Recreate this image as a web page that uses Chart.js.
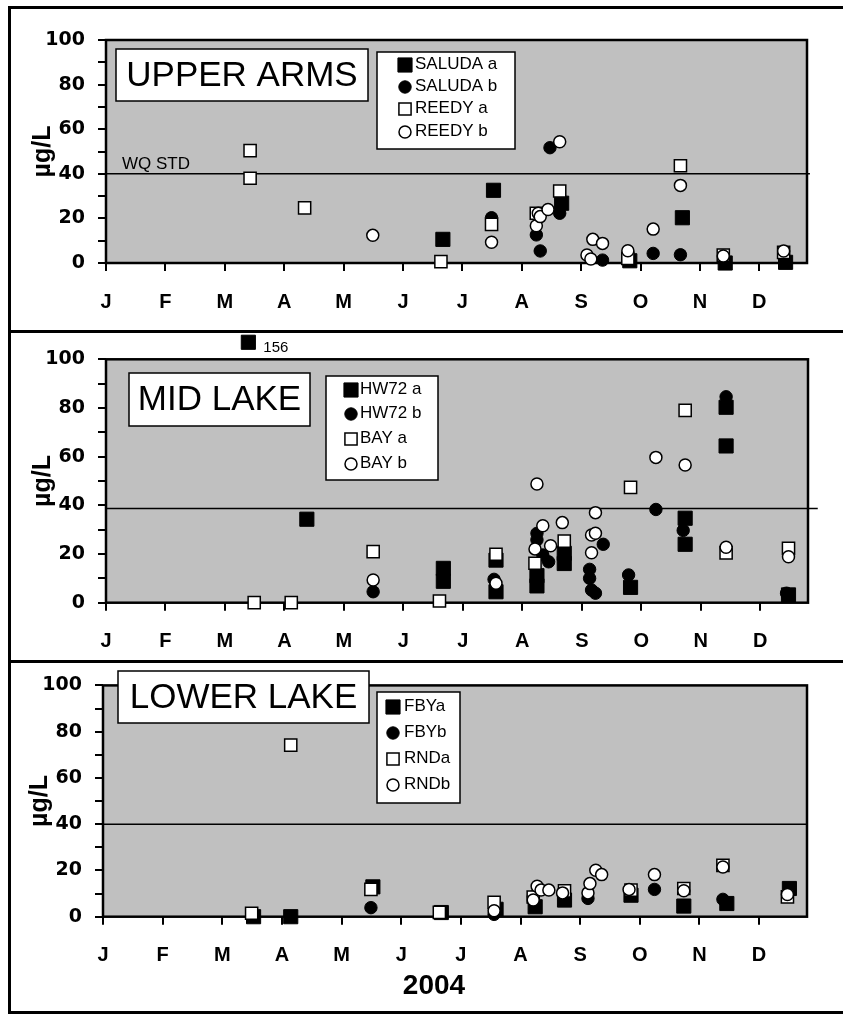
<!DOCTYPE html>
<html lang="en">
<head>
<meta charset="UTF-8">
<title>2004 - Upper Arms / Mid Lake / Lower Lake</title>
<script src="https://cdn.jsdelivr.net/npm/chart.js"></script>
<style>
    body {
        margin: 0;
        background: #fff;
        width: 843px;
        height: 1015px;
        overflow: hidden;
        position: relative;
    }
    .frame {
        position: absolute;
        left: 8px;
        top: 6px;
        width: 900px;
        height: 1008px;
        border: 3px solid #000;
        box-sizing: border-box;
    }
    .sep {
        position: absolute;
        left: 8px;
        width: 900px;
        height: 3px;
        background: #000;
    }
    canvas {
        position: absolute;
        left: 0;
    }
</style>
</head>
<body>
<div class="frame"></div>
<div class="sep" style="top:330px"></div>
<div class="sep" style="top:660px"></div>
<canvas id="c1" width="843" height="331" style="top:0"></canvas>
<canvas id="c2" width="843" height="330" style="top:331px"></canvas>
<canvas id="c3" width="843" height="354" style="top:661px"></canvas>

<script>
const MONTHS = ['J', 'F', 'M', 'A', 'M', 'J', 'J', 'A', 'S', 'O', 'N', 'D'];
const MONTH_TICKS = [0, 30.5, 61, 91.5, 122, 152.5, 183, 213.5, 244, 274.5, 305, 335.5];
const PANEL_TITLES = ['UPPER ARMS', 'MID LAKE', 'LOWER LAKE'];
const WQ_STD = [40, 38.7, 40];
const BREAK_Y = 107;   // values above 100 are drawn just over the plot top

// [day of year, µg/L]
// upper arms
const saludaA = [[173, 10.6], [199, 32.6], [234, 26.8], [269, 1.0], [296, 20.3], [318, 0], [349, 0.3]];
const saludaB = [[198, 20.3], [221, 12.6], [223, 5.4], [228, 51.7], [233, 22.3], [255, 1.3], [281, 4.3], [295, 3.7]];
const reedyA = [[74, 50.4], [74, 38.0], [102, 24.7], [172, 0.6], [198, 17.3], [221, 22.3], [233, 32.3],
                [268, 2.1], [295, 43.6], [317, 3.5], [348, 4.8]];
const reedyB = [[137, 12.4], [198, 9.3], [221, 16.7], [222, 22.3], [223, 20.8], [227, 24.0], [233, 54.4],
                [247, 3.6], [249, 1.8], [250, 10.6], [255, 8.8], [268, 5.5], [281, 15.2], [295, 34.8],
                [317, 3.1], [348, 5.4]];

// mid lake
const hw72A = [[73, 156], [103, 34.3], [173, 14.1], [173, 8.8], [200, 17.5], [200, 4.5], [221, 11.1], [221, 6.9],
               [235, 20.3], [235, 16.1], [269, 6.3], [297, 34.7], [297, 24], [318, 80.3], [318, 64.4], [350, 3.2]];
const hw72B = [[137, 4.5], [199, 9.6], [221, 25.8], [221, 28.5], [224, 19.6], [227, 16.8], [248, 13.7], [248, 10],
               [249, 5.2], [251, 3.9], [255, 24], [268, 11.4], [282, 38.3], [296, 29.7], [318, 84.6], [349, 3.9]];
const bayA = [[76, 0], [95, 0], [137, 21], [171, 0.7], [200, 19.9], [220, 16.2], [235, 25.3], [269, 47.4],
              [297, 79], [318, 20.5], [350, 22.3]];
const bayB = [[137, 9.3], [200, 8], [220, 22.1], [221, 48.8], [224, 31.6], [228, 23.4], [234, 32.9], [249, 20.5],
              [249, 27.8], [251, 28.5], [251, 37], [282, 59.7], [297, 56.6], [318, 22.8], [350, 18.9]];

// lower lake
const fbyA = [[77, 0], [96, 0], [138, 12.9], [173, 1.8], [201, 3.2], [221, 4.3], [236, 7.2], [270, 9.3],
              [297, 4.6], [319, 5.7], [351, 12.2]];
const fbyB = [[137, 3.9], [200, 1], [220, 8.6], [248, 7.9], [282, 11.8], [317, 7.5]];
const rndA = [[76, 1.5], [96, 74.2], [137, 11.8], [172, 1.9], [200, 6.2], [220, 8.5], [236, 11.2], [270, 11.5],
              [297, 12.2], [317, 22.2], [350, 8.6]];
const rndB = [[200, 2.6], [220, 7.2], [222, 13.2], [224, 11.5], [228, 11.5], [235, 10.3], [248, 10.3], [249, 14.3],
              [252, 20.1], [255, 18.2], [269, 11.8], [282, 18.2], [297, 11.2], [317, 21.5], [350, 9.6]];

const FONT = '"Liberation Sans", Arial, sans-serif';
const WIDE_FONT = '"DejaVu Sans", Verdana, sans-serif';

const MARKS = {
    fsq: { style: 'rect', r: 10, bg: '#000', bw: 1 },
    fci: { style: 'circle', r: 6.2, bg: '#000', bw: 1 },
    osq: { style: 'rect', r: 8.6, bg: '#fff', bw: 1.5 },
    oci: { style: 'circle', r: 6, bg: '#fff', bw: 1.5 }
};

const PANELS = [
    {
        id: 'c1', height: 331, area: { l: 106, r: 807, t: 40, b: 263 }, stdEnd: 361.5,
        series: [['SALUDA a', 'fsq', saludaA], ['SALUDA b', 'fci', saludaB], ['REEDY a', 'osq', reedyA], ['REEDY b', 'oci', reedyB]],
        titleBox: { x: 116, y: 49, w: 252, h: 52 },
        legend: { x: 377, y: 52, w: 138, h: 97, rows: [64, 86, 108, 131], markX: 405, textX: 415 },
        texts: [{ text: 'WQ STD', x: 122, y: 169, font: '17px ' + FONT, base: 'alphabetic' }]
    },
    {
        id: 'c2', height: 330, area: { l: 106, r: 808, t: 28.3, b: 271.7 }, stdEnd: 365,
        series: [['HW72 a', 'fsq', hw72A], ['HW72 b', 'fci', hw72B], ['BAY a', 'osq', bayA], ['BAY b', 'oci', bayB]],
        titleBox: { x: 129, y: 42, w: 181, h: 53 },
        legend: { x: 326, y: 45, w: 112, h: 104, rows: [58, 82, 107, 132], markX: 351, textX: 360 },
        texts: []
    },
    {
        id: 'c3', height: 354, area: { l: 103, r: 807, t: 23, b: 255.7 }, stdEnd: 360,
        series: [['FBYa', 'fsq', fbyA], ['FBYb', 'fci', fbyB], ['RNDa', 'osq', rndA], ['RNDb', 'oci', rndB]],
        titleBox: { x: 118, y: 10, w: 251, h: 52 },
        legend: { x: 377, y: 31, w: 83, h: 111, rows: [45, 71, 97, 123], markX: 393, textX: 404 },
        texts: [{ text: '2004', x: 434, y: 325, font: 'bold 28px ' + FONT, base: 'middle', align: 'center' }]
    }
];

const Y_AXIS_W = 86;
const X_AXIS_H = 50;

function drawMark(ctx, kind, x, y) {
    const m = MARKS[kind];
    ctx.save();
    ctx.fillStyle = m.bg;
    ctx.strokeStyle = '#000';
    ctx.lineWidth = m.bw;
    ctx.beginPath();
    if (m.style === 'rect') {
        const s = m.r * Math.SQRT1_2;
        ctx.rect(x - s, y - s, 2 * s, 2 * s);
    } else {
        ctx.arc(x, y, m.r, 0, Math.PI * 2);
    }
    ctx.fill();
    ctx.stroke();
    ctx.restore();
}

const panelDeco = {
    id: 'panelDeco',
    beforeDraw(chart) {
        const a = chart.chartArea, ctx = chart.ctx;
        ctx.save();
        ctx.fillStyle = '#c0c0c0';
        ctx.fillRect(a.left, a.top, a.right - a.left, a.bottom - a.top);
        ctx.restore();
    },
    beforeDatasetsDraw(chart) {
        const a = chart.chartArea, ctx = chart.ctx;
        ctx.save();
        ctx.strokeStyle = '#000';
        ctx.lineWidth = 2.5;
        ctx.strokeRect(a.left, a.top, a.right - a.left, a.bottom - a.top);
        ctx.restore();
    },
    afterDatasetsDraw(chart, args, opts) {
        const ctx = chart.ctx;
        const p = opts.panel;
        ctx.save();

        // values off the scale: Chart.js skips marks outside the plot, so draw
        // them at their scaled position and write the real number beside them
        chart.data.datasets.forEach((ds, i) => {
            if (!ds.kind) return;
            chart.getDatasetMeta(i).data.forEach((pt, j) => {
                const v = ds.data[j].v;
                if (v > 100) {
                    drawMark(ctx, ds.kind, pt.x, pt.y);
                    ctx.fillStyle = '#000';
                    ctx.font = '15px ' + FONT;
                    ctx.textAlign = 'left';
                    ctx.textBaseline = 'middle';
                    ctx.fillText(String(v), pt.x + 15, pt.y + 6);
                }
            });
        });

        // panel title box
        const tb = p.titleBox;
        ctx.fillStyle = '#fff';
        ctx.fillRect(tb.x, tb.y, tb.w, tb.h);
        ctx.strokeStyle = '#000';
        ctx.lineWidth = 1.5;
        ctx.strokeRect(tb.x, tb.y, tb.w, tb.h);
        ctx.fillStyle = '#000';
        ctx.font = '35px ' + FONT;
        ctx.textAlign = 'center';
        ctx.textBaseline = 'middle';
        ctx.fillText(opts.title, tb.x + tb.w / 2, tb.y + tb.h / 2 + 1);

        // legend
        const lg = p.legend;
        ctx.fillStyle = '#fff';
        ctx.fillRect(lg.x, lg.y, lg.w, lg.h);
        ctx.strokeRect(lg.x, lg.y, lg.w, lg.h);
        p.series.forEach((s, i) => {
            drawMark(ctx, s[1], lg.markX, lg.rows[i] + 1);
            ctx.fillStyle = '#000';
            ctx.font = '17px ' + FONT;
            ctx.textAlign = 'left';
            ctx.textBaseline = 'middle';
            ctx.fillText(s[0], lg.textX, lg.rows[i]);
        });

        // loose texts
        p.texts.forEach(t => {
            ctx.fillStyle = '#000';
            ctx.font = t.font;
            ctx.textAlign = t.align || 'left';
            ctx.textBaseline = t.base;
            ctx.fillText(t.text, t.x, t.y);
        });
        ctx.restore();
    }
};

function makePanel(p, idx) {
    const n = p.series.length;
    const datasets = p.series.map((s, i) => {
        const m = MARKS[s[1]];
        return {
            label: s[0],
            kind: s[1],
            data: s[2].map(d => ({ x: d[0], y: Math.min(d[1], BREAK_Y), v: d[1] })),
            pointStyle: m.style,
            pointRadius: m.r,
            pointBackgroundColor: m.bg,
            pointBorderColor: '#000',
            pointBorderWidth: m.bw,
            showLine: false,
            clip: false,
            order: n - i
        };
    });
    datasets.push({
        label: 'WQ STD',
        type: 'line',
        data: [{ x: 0, y: WQ_STD[idx] }, { x: p.stdEnd, y: WQ_STD[idx] }],
        borderColor: '#000',
        borderWidth: 1.5,
        pointRadius: 0,
        clip: false,
        order: n + 1
    });

    const a = p.area;
    new Chart(document.getElementById(p.id), {
        type: 'scatter',
        data: { datasets: datasets },
        plugins: [panelDeco],
        options: {
            responsive: false,
            animation: false,
            events: [],
            devicePixelRatio: 1,
            layout: {
                autoPadding: false,
                padding: {
                    left: a.l - Y_AXIS_W,
                    right: 843 - a.r,
                    top: a.t,
                    bottom: p.height - a.b - X_AXIS_H
                }
            },
            plugins: {
                legend: { display: false },
                tooltip: { enabled: false },
                panelDeco: { panel: p, title: PANEL_TITLES[idx] }
            },
            scales: {
                x: {
                    type: 'linear',
                    min: 0,
                    max: 360,
                    afterBuildTicks: s => { s.ticks = MONTH_TICKS.map(v => ({ value: v })); },
                    afterFit: s => { s.height = X_AXIS_H; },
                    border: { display: false },
                    grid: { drawOnChartArea: false, drawTicks: true, tickLength: 8, color: '#000', lineWidth: 2 },
                    ticks: {
                        autoSkip: false,
                        maxRotation: 0,
                        padding: 19,
                        color: '#000',
                        font: { family: FONT, size: 20, weight: 'bold' },
                        callback: (v, i) => MONTHS[i]
                    }
                },
                y: {
                    min: 0,
                    max: 100,
                    afterFit: s => { s.width = Y_AXIS_W; },
                    border: { display: false },
                    grid: { drawOnChartArea: false, drawTicks: true, tickLength: 8, color: '#000', lineWidth: 2 },
                    ticks: {
                        stepSize: 10,
                        autoSkip: false,
                        padding: 13,
                        color: '#000',
                        font: { family: WIDE_FONT, size: 19, weight: 'bold' },
                        callback: v => (v % 20 === 0 ? v : '')
                    },
                    title: {
                        display: true,
                        text: 'µg/L',
                        color: '#000',
                        font: { family: FONT, size: 25, weight: 'bold' },
                        padding: { top: 8, bottom: 0 }
                    }
                }
            }
        }
    });
}

PANELS.forEach(makePanel);
</script>
</body>
</html>
